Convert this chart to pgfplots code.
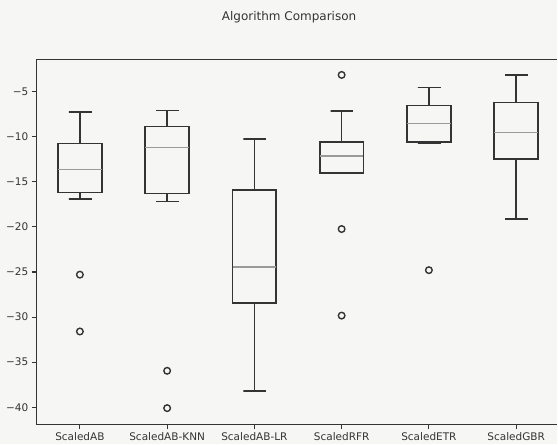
\documentclass[border=0pt]{standalone}
\usepackage{fontspec}
\setmainfont{DejaVu Sans}
\usepackage{pgfplots}
\pgfplotsset{compat=1.18}

\definecolor{paper}{HTML}{F6F6F4}
\definecolor{ink}{HTML}{343434}
\definecolor{medgray}{HTML}{9A9A9A}

\pgfplotsset{
  boxline/.style={draw=ink, line width=1.7pt, mark=none, line join=miter, line cap=rect},
  medline/.style={draw=medgray, line width=1.3pt, mark=none},
  outl/.style={only marks, mark=o, mark size=3.3pt, mark options={draw=ink, line width=1.4pt}},
}

\begin{document}
\begin{tikzpicture}
\fill[paper] (0pt,0pt) rectangle (558pt,444pt);
\begin{axis}[
  at={(36.3pt,19pt)}, anchor=south west,
  scale only axis, width=521.7pt, height=365.7pt,
  xmin=0.5, xmax=6.473, ymin=-41.92, ymax=-1.41,
  unbounded coords=jump,
  axis x line=box, axis y line*=left,
  xtick={1,2,3,4,5,6},
  xticklabels={ScaledAB,ScaledAB-KNN,ScaledAB-LR,ScaledRFR,ScaledETR,ScaledGBR},
  ytick={-40,-35,-30,-25,-20,-15,-10,-5},
  yticklabels={−40,−35,−30,−25,−20,−15,−10,−5},
  tick label style={font=\fontsize{10.5}{12}\selectfont, text=ink},
  tick align=outside, major tick length=4.5pt,
  tick style={draw=ink, line width=1.1pt},
  xtick pos=bottom, ytick pos=left,
  axis line style={draw=ink, line width=1.2pt, -},
  title={Algorithm Comparison},
  title style={font=\fontsize{12}{14}\selectfont, text=ink, anchor=center,
    at={(rel axis cs:0.5,1)}, xshift=-7.8pt, yshift=36pt},
]
% each box: quartile box, then upper whisker+cap, then lower whisker+cap
% ScaledAB: lw -16.9, q1 -16.18, med -13.67, q3 -10.76, uw -7.28
\addplot[boxline] coordinates {(0.75,-16.18)(1.25,-16.18)(1.25,-10.76)(0.75,-10.76)(0.75,-16.18)
  (1,nan) (1,-10.76)(1,-7.28)(0.875,-7.28)(1.125,-7.28)
  (1,nan) (1,-16.18)(1,-16.9)(0.875,-16.9)(1.125,-16.9)};
\addplot[medline] coordinates {(0.75,-13.67)(1.25,-13.67)};
\addplot[outl] coordinates {(1,-25.3)(1,-31.6)};
% ScaledAB-KNN: lw -17.2, q1 -16.3, med -11.2, q3 -8.87, uw -7.1
\addplot[boxline] coordinates {(1.75,-16.3)(2.25,-16.3)(2.25,-8.87)(1.75,-8.87)(1.75,-16.3)
  (2,nan) (2,-8.87)(2,-7.1)(1.875,-7.1)(2.125,-7.1)
  (2,nan) (2,-16.3)(2,-17.2)(1.875,-17.2)(2.125,-17.2)};
\addplot[medline] coordinates {(1.75,-11.2)(2.25,-11.2)};
\addplot[outl] coordinates {(2,-35.96)(2,-40.1)};
% ScaledAB-LR: lw -38.2, q1 -28.43, med -24.45, q3 -15.92, uw -10.27
\addplot[boxline] coordinates {(2.75,-28.43)(3.25,-28.43)(3.25,-15.92)(2.75,-15.92)(2.75,-28.43)
  (3,nan) (3,-15.92)(3,-10.27)(2.875,-10.27)(3.125,-10.27)
  (3,nan) (3,-28.43)(3,-38.2)(2.875,-38.2)(3.125,-38.2)};
\addplot[medline] coordinates {(2.75,-24.45)(3.25,-24.45)};
% ScaledRFR: lw -14.04, q1 -14.04, med -12.15, q3 -10.6, uw -7.14
\addplot[boxline] coordinates {(3.75,-14.04)(4.25,-14.04)(4.25,-10.6)(3.75,-10.6)(3.75,-14.04)
  (4,nan) (4,-10.6)(4,-7.14)(3.875,-7.14)(4.125,-7.14)
  (4,nan) (3.875,-14.04)(4.125,-14.04)};
\addplot[medline] coordinates {(3.75,-12.15)(4.25,-12.15)};
\addplot[outl] coordinates {(4,-3.15)(4,-20.24)(4,-29.84)};
% ScaledETR: lw -10.75, q1 -10.6, med -8.5, q3 -6.55, uw -4.56
\addplot[boxline] coordinates {(4.75,-10.6)(5.25,-10.6)(5.25,-6.55)(4.75,-6.55)(4.75,-10.6)
  (5,nan) (5,-6.55)(5,-4.56)(4.875,-4.56)(5.125,-4.56)
  (5,nan) (5,-10.6)(5,-10.75)(4.875,-10.75)(5.125,-10.75)};
\addplot[medline] coordinates {(4.75,-8.5)(5.25,-8.5)};
\addplot[outl] coordinates {(5,-24.8)};
% ScaledGBR: lw -19.1, q1 -12.49, med -9.5, q3 -6.22, uw -3.12
\addplot[boxline] coordinates {(5.75,-12.49)(6.25,-12.49)(6.25,-6.22)(5.75,-6.22)(5.75,-12.49)
  (6,nan) (6,-6.22)(6,-3.12)(5.875,-3.12)(6.125,-3.12)
  (6,nan) (6,-12.49)(6,-19.1)(5.875,-19.1)(6.125,-19.1)};
\addplot[medline] coordinates {(5.75,-9.5)(6.25,-9.5)};
\end{axis}
\end{tikzpicture}
\end{document}
